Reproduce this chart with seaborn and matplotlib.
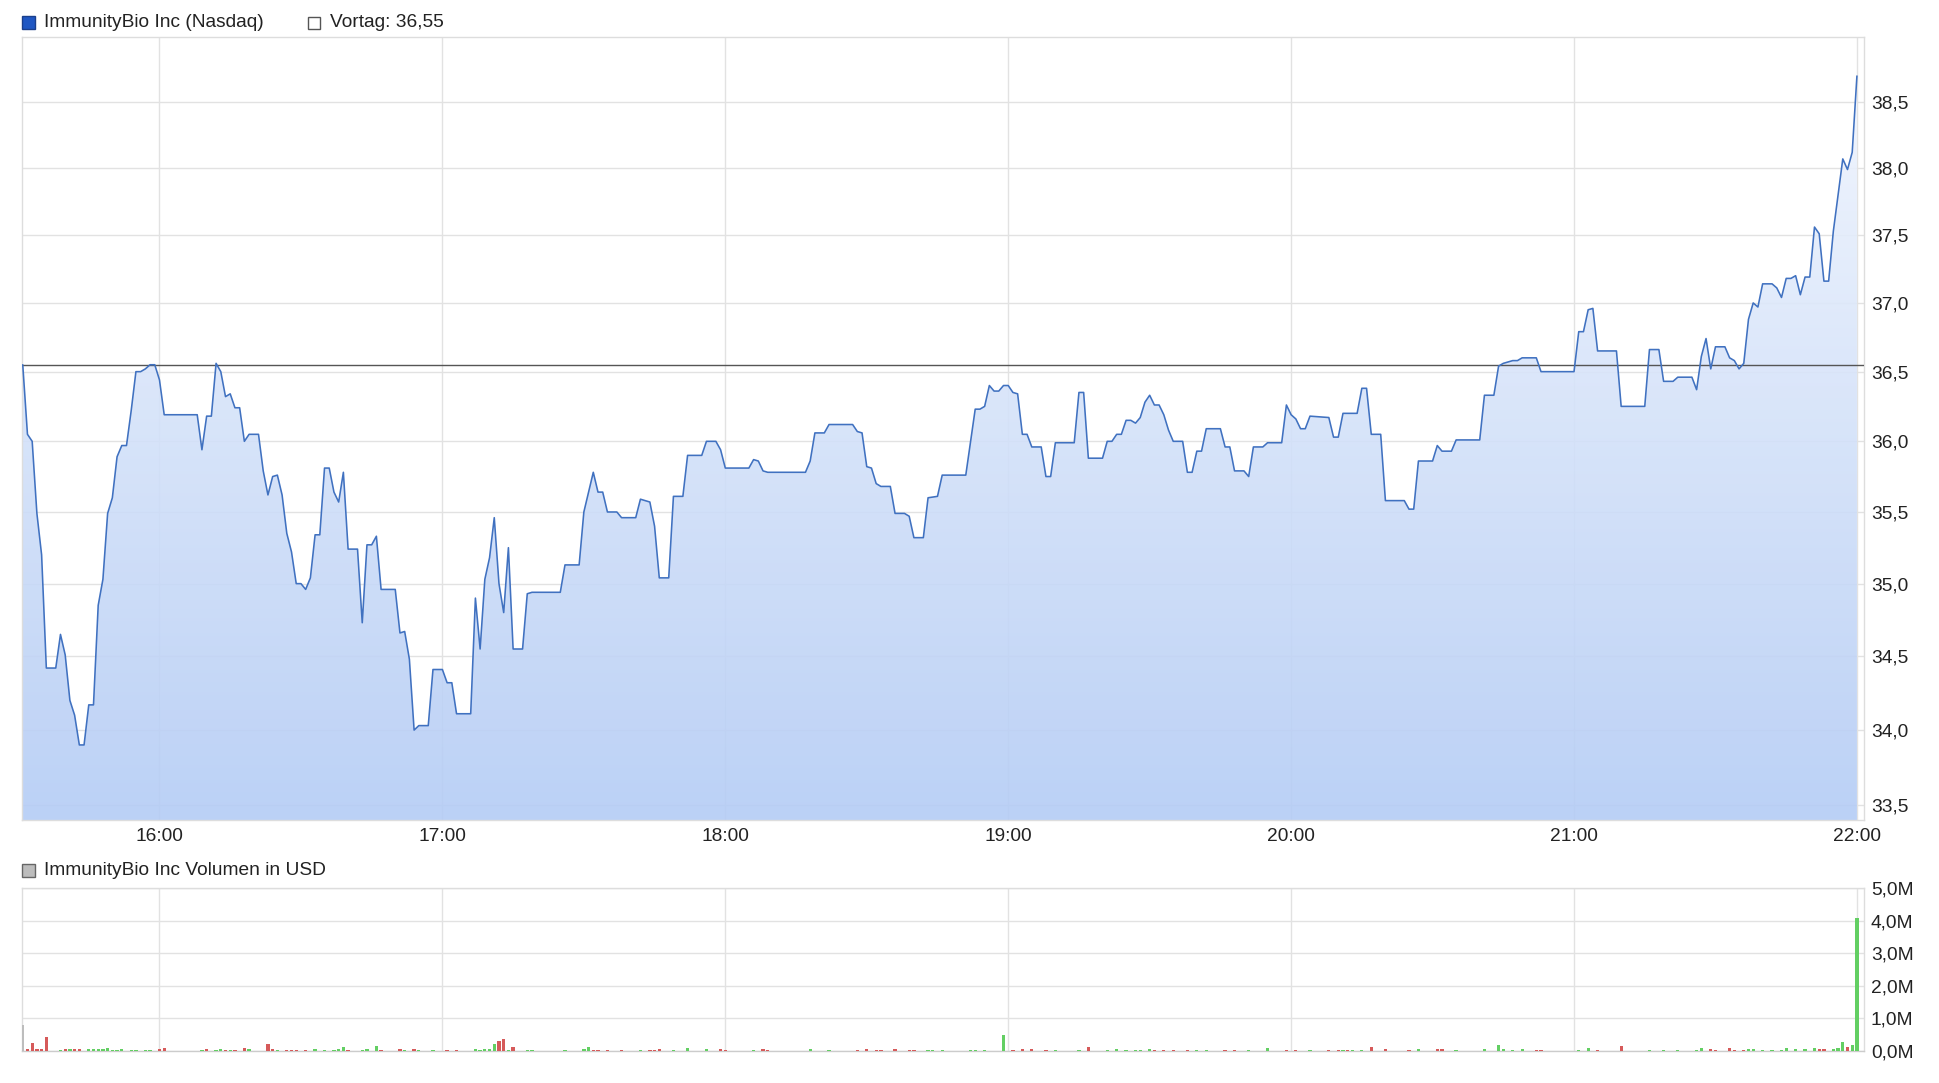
import numpy as np
import pandas as pd
import matplotlib
matplotlib.use('Agg')
import matplotlib.pyplot as plt
import seaborn as sns
from matplotlib.colors import LinearSegmentedColormap
from matplotlib.patches import Rectangle
from matplotlib.ticker import FixedLocator, FuncFormatter, NullLocator, NullFormatter

# --- Kursdaten (Minutenwerte) ---
price_times = [
    '15:31', '15:32', '15:33', '15:34', '15:35', '15:36', '15:38', '15:39', '15:40', '15:41',
    '15:42', '15:43', '15:44', '15:45', '15:46', '15:47', '15:48', '15:49', '15:50', '15:51',
    '15:52', '15:53', '15:54', '15:55', '15:56', '15:57', '15:58', '15:59', '16:00', '16:01',
    '16:08', '16:09', '16:10', '16:11', '16:12', '16:13', '16:14', '16:15', '16:16', '16:17',
    '16:18', '16:19', '16:21', '16:22', '16:23', '16:24', '16:25', '16:26', '16:27', '16:28',
    '16:29', '16:30', '16:31', '16:32', '16:33', '16:34', '16:35', '16:36', '16:37', '16:38',
    '16:39', '16:40', '16:42', '16:43', '16:44', '16:45', '16:46', '16:47', '16:50', '16:51',
    '16:52', '16:53', '16:54', '16:55', '16:57', '16:58', '17:00', '17:01', '17:02', '17:03',
    '17:06', '17:07', '17:08', '17:09', '17:10', '17:11', '17:12', '17:13', '17:14', '17:15',
    '17:17', '17:18', '17:19', '17:25', '17:26', '17:29', '17:30', '17:32', '17:33', '17:34',
    '17:35', '17:37', '17:38', '17:41', '17:42', '17:44', '17:45', '17:46', '17:48', '17:49',
    '17:51', '17:52', '17:55', '17:56', '17:58', '17:59', '18:00', '18:05', '18:06', '18:07',
    '18:08', '18:09', '18:17', '18:18', '18:19', '18:21', '18:22', '18:27', '18:28', '18:29',
    '18:30', '18:31', '18:32', '18:33', '18:35', '18:36', '18:38', '18:39', '18:40', '18:42',
    '18:43', '18:45', '18:46', '18:51', '18:53', '18:54', '18:55', '18:56', '18:57', '18:58',
    '18:59', '19:00', '19:01', '19:02', '19:03', '19:04', '19:05', '19:07', '19:08', '19:09',
    '19:10', '19:14', '19:15', '19:16', '19:17', '19:20', '19:21', '19:22', '19:23', '19:24',
    '19:25', '19:26', '19:27', '19:28', '19:29', '19:30', '19:31', '19:32', '19:33', '19:34',
    '19:35', '19:37', '19:38', '19:39', '19:40', '19:41', '19:42', '19:45', '19:46', '19:47',
    '19:48', '19:50', '19:51', '19:52', '19:54', '19:55', '19:58', '19:59', '20:00', '20:01',
    '20:02', '20:03', '20:04', '20:08', '20:09', '20:10', '20:11', '20:14', '20:15', '20:16',
    '20:17', '20:19', '20:20', '20:24', '20:25', '20:26', '20:27', '20:30', '20:31', '20:32',
    '20:34', '20:35', '20:40', '20:41', '20:43', '20:44', '20:45', '20:47', '20:48', '20:49',
    '20:52', '20:53', '21:00', '21:01', '21:02', '21:03', '21:04', '21:05', '21:09', '21:10',
    '21:15', '21:16', '21:18', '21:19', '21:21', '21:22', '21:25', '21:26', '21:27', '21:28',
    '21:29', '21:30', '21:32', '21:33', '21:34', '21:35', '21:36', '21:37', '21:38', '21:39',
    '21:40', '21:42', '21:43', '21:44', '21:45', '21:46', '21:47', '21:48', '21:49', '21:50',
    '21:51', '21:52', '21:53', '21:54', '21:55', '21:56', '21:57', '21:58', '21:59', '22:00',
]
price_values = [
    36.55, 36.05, 36.00, 35.49, 35.20, 34.42, 34.42, 34.65, 34.51, 34.20,
    34.10, 33.90, 33.90, 34.17, 34.17, 34.85, 35.03, 35.49, 35.60, 35.89,
    35.97, 35.97, 36.22, 36.50, 36.50, 36.52, 36.55, 36.55, 36.44, 36.19,
    36.19, 35.94, 36.18, 36.18, 36.56, 36.50, 36.32, 36.34, 36.24, 36.24,
    36.00, 36.05, 36.05, 35.79, 35.62, 35.75, 35.76, 35.62, 35.35, 35.22,
    35.00, 35.00, 34.96, 35.04, 35.34, 35.34, 35.81, 35.81, 35.64, 35.57,
    35.78, 35.24, 35.24, 34.73, 35.27, 35.27, 35.33, 34.96, 34.96, 34.66,
    34.67, 34.48, 34.00, 34.03, 34.03, 34.41, 34.41, 34.32, 34.32, 34.11,
    34.11, 34.90, 34.55, 35.03, 35.18, 35.46, 35.00, 34.80, 35.25, 34.55,
    34.55, 34.93, 34.94, 34.94, 35.13, 35.13, 35.50, 35.78, 35.64, 35.64,
    35.50, 35.50, 35.46, 35.46, 35.59, 35.57, 35.40, 35.04, 35.04, 35.61,
    35.61, 35.90, 35.90, 36.00, 36.00, 35.94, 35.81, 35.81, 35.87, 35.86,
    35.79, 35.78, 35.78, 35.86, 36.06, 36.06, 36.12, 36.12, 36.07, 36.06,
    35.82, 35.81, 35.70, 35.68, 35.68, 35.49, 35.49, 35.47, 35.32, 35.32,
    35.60, 35.61, 35.76, 35.76, 36.23, 36.23, 36.25, 36.40, 36.36, 36.36,
    36.40, 36.40, 36.35, 36.34, 36.05, 36.05, 35.96, 35.96, 35.75, 35.75,
    35.99, 35.99, 36.35, 36.35, 35.88, 35.88, 36.00, 36.00, 36.05, 36.05,
    36.15, 36.15, 36.13, 36.17, 36.28, 36.33, 36.26, 36.26, 36.19, 36.08,
    36.00, 36.00, 35.78, 35.78, 35.93, 35.93, 36.09, 36.09, 35.96, 35.96,
    35.79, 35.79, 35.75, 35.96, 35.96, 35.99, 35.99, 36.26, 36.19, 36.16,
    36.09, 36.09, 36.18, 36.17, 36.03, 36.03, 36.20, 36.20, 36.38, 36.38,
    36.05, 36.05, 35.58, 35.58, 35.52, 35.52, 35.86, 35.86, 35.97, 35.93,
    35.93, 36.01, 36.01, 36.33, 36.33, 36.54, 36.56, 36.58, 36.58, 36.60,
    36.60, 36.50, 36.50, 36.79, 36.79, 36.95, 36.96, 36.65, 36.65, 36.25,
    36.25, 36.66, 36.66, 36.43, 36.43, 36.46, 36.46, 36.37, 36.61, 36.74,
    36.52, 36.68, 36.68, 36.60, 36.58, 36.52, 36.56, 36.88, 37.00, 36.97,
    37.14, 37.14, 37.11, 37.04, 37.18, 37.18, 37.20, 37.06, 37.19, 37.19,
    37.56, 37.51, 37.16, 37.16, 37.53, 37.80, 38.07, 37.99, 38.12, 38.70,
]
prev_close = 36.55

# --- Volumen in Mio. USD; u = steigend, d = fallend, n = neutral ---
volume_times = [
    '15:31', '15:32', '15:33', '15:34', '15:35', '15:36', '15:39', '15:40', '15:41', '15:42',
    '15:43', '15:45', '15:46', '15:47', '15:48', '15:49', '15:50', '15:51', '15:52', '15:54',
    '15:55', '15:57', '15:58', '16:00', '16:01', '16:09', '16:10', '16:12', '16:13', '16:14',
    '16:15', '16:16', '16:18', '16:19', '16:23', '16:24', '16:25', '16:27', '16:28', '16:29',
    '16:31', '16:33', '16:35', '16:37', '16:38', '16:39', '16:40', '16:43', '16:44', '16:46',
    '16:47', '16:51', '16:52', '16:54', '16:55', '16:58', '17:01', '17:03', '17:07', '17:08',
    '17:09', '17:10', '17:11', '17:12', '17:13', '17:14', '17:15', '17:18', '17:19', '17:26',
    '17:30', '17:31', '17:32', '17:33', '17:35', '17:38', '17:42', '17:44', '17:45', '17:46',
    '17:49', '17:52', '17:56', '17:59', '18:00', '18:06', '18:08', '18:09', '18:18', '18:22',
    '18:28', '18:30', '18:32', '18:33', '18:36', '18:39', '18:40', '18:43', '18:44', '18:46',
    '18:52', '18:53', '18:55', '18:59', '19:01', '19:03', '19:05', '19:08', '19:10', '19:15',
    '19:17', '19:21', '19:23', '19:25', '19:27', '19:28', '19:30', '19:31', '19:33', '19:35',
    '19:38', '19:40', '19:42', '19:46', '19:48', '19:51', '19:55', '19:59', '20:01', '20:04',
    '20:08', '20:10', '20:11', '20:12', '20:13', '20:15', '20:17', '20:20', '20:25', '20:27',
    '20:31', '20:32', '20:35', '20:41', '20:44', '20:45', '20:47', '20:49', '20:52', '20:53',
    '21:01', '21:03', '21:05', '21:10', '21:16', '21:19', '21:22', '21:26', '21:27', '21:29',
    '21:30', '21:33', '21:34', '21:36', '21:37', '21:38', '21:40', '21:42', '21:44', '21:45',
    '21:47', '21:49', '21:51', '21:52', '21:53', '21:55', '21:56', '21:57', '21:58', '21:59',
    '22:00',
]
volume_musd = [
    0.80, 0.05, 0.24, 0.05, 0.05, 0.42, 0.03, 0.05, 0.05, 0.05,
    0.05, 0.05, 0.05, 0.05, 0.05, 0.08, 0.03, 0.03, 0.05, 0.03,
    0.03, 0.03, 0.03, 0.06, 0.08, 0.03, 0.05, 0.03, 0.05, 0.03,
    0.03, 0.03, 0.08, 0.05, 0.20, 0.05, 0.03, 0.03, 0.03, 0.03,
    0.03, 0.05, 0.03, 0.03, 0.05, 0.11, 0.03, 0.03, 0.05, 0.16,
    0.03, 0.07, 0.03, 0.05, 0.03, 0.03, 0.03, 0.03, 0.07, 0.03,
    0.05, 0.07, 0.20, 0.30, 0.36, 0.03, 0.11, 0.03, 0.03, 0.03,
    0.05, 0.13, 0.03, 0.03, 0.03, 0.03, 0.03, 0.03, 0.03, 0.05,
    0.03, 0.08, 0.05, 0.05, 0.03, 0.03, 0.06, 0.03, 0.05, 0.03,
    0.03, 0.07, 0.03, 0.03, 0.06, 0.03, 0.03, 0.03, 0.03, 0.03,
    0.03, 0.03, 0.03, 0.49, 0.03, 0.06, 0.06, 0.03, 0.03, 0.03,
    0.13, 0.03, 0.06, 0.03, 0.03, 0.03, 0.06, 0.03, 0.03, 0.03,
    0.03, 0.03, 0.03, 0.03, 0.03, 0.03, 0.09, 0.03, 0.03, 0.03,
    0.03, 0.03, 0.03, 0.03, 0.03, 0.03, 0.11, 0.05, 0.03, 0.05,
    0.05, 0.05, 0.03, 0.05, 0.18, 0.05, 0.03, 0.06, 0.03, 0.03,
    0.03, 0.08, 0.03, 0.15, 0.03, 0.03, 0.03, 0.03, 0.08, 0.05,
    0.03, 0.08, 0.03, 0.03, 0.06, 0.06, 0.03, 0.03, 0.03, 0.10,
    0.05, 0.05, 0.10, 0.05, 0.05, 0.05, 0.08, 0.27, 0.13, 0.18,
    4.08,
]
volume_dir = list(
    'ndddddudud' 'duuuuuuuuu' 'uuudduduud' 'uddudduddd' 'duuuuuduuu'
    'dduduudduu' 'uuudduduuu' 'uudddduddd' 'uuuddudduu' 'ddddddduuu'
    'uuuudddduu' 'duuuuuuddd' 'duudduuddu' 'dduduudddu' 'dduuuuuudd'
    'uudduuuuud' 'dddduuuuuu' 'uuudduuudu' 'u'
)

hour_ticks = ['16:00', '17:00', '18:00', '19:00', '20:00', '21:00', '22:00']
price_ticks = [33.5, 34.0, 34.5, 35.0, 35.5, 36.0, 36.5, 37.0, 37.5, 38.0, 38.5]
volume_ticks = [0, 1, 2, 3, 4, 5]

LINE = '#4071c0'
FILL_TOP = '#f3f7fe'
FILL_BOTTOM = '#b4ccf5'
GRID = '#e2e2e2'
UP, DOWN, NEUTRAL = '#63cf63', '#d65a5a', '#bdbdbd'
FS = 13.8


def to_hours(s):
    h, m = s.split(':')
    return int(h) + int(m) / 60.0


def de_num(v, suffix='', nd=1):
    return f'{v:.{nd}f}'.replace('.', ',') + suffix


sns.set_theme(style='white')
plt.rcParams['font.family'] = ['Liberation Sans', 'DejaVu Sans']

W, H = 1939, 1083
fig = plt.figure(figsize=(W / 100, H / 100), dpi=100)
fx = lambda px: px / W
fy = lambda py: 1 - py / H

ax = fig.add_axes([fx(22), fy(820), fx(1864 - 22), (820 - 37) / H])
axv = fig.add_axes([fx(22), fy(1051), fx(1864 - 22), (1051 - 888) / H])

x0, x1 = 15.514, 22.025
hour_pos = [to_hours(t) for t in hour_ticks]

# --- Kurschart ---
df = pd.DataFrame({'t': [to_hours(t) for t in price_times], 'price': price_values})
sns.lineplot(data=df, x='t', y='price', ax=ax, color=LINE, linewidth=1.15, zorder=4)
ax.set_yscale('log')

# Verlaufsfüllung unter der Kurve
poly = ax.fill_between(df['t'], df['price'], 30, color='none', linewidth=0)
clip = poly.get_paths()[0]
poly.remove()
cmap = LinearSegmentedColormap.from_list('fill', [FILL_BOTTOM, FILL_TOP])
grad = np.linspace(0, 1, 256).reshape(-1, 1)
im = ax.imshow(grad, cmap=cmap, extent=[0, 1, 0, 1], transform=ax.transAxes,
               origin='lower', aspect='auto', zorder=2, alpha=0.9)
im.set_clip_path(clip, transform=ax.transData)

ax.axhline(prev_close, color='#555555', linewidth=1.0, zorder=3)

ax.set_xlim(x0, x1)
ax.set_ylim(33.40, 39.0)
ax.yaxis.set_major_locator(FixedLocator(price_ticks))
ax.yaxis.set_major_formatter(FuncFormatter(lambda v, _: de_num(v)))
ax.yaxis.set_minor_locator(NullLocator())
ax.yaxis.set_minor_formatter(NullFormatter())
ax.xaxis.set_major_locator(FixedLocator(hour_pos))
ax.xaxis.set_major_formatter(FuncFormatter(lambda v, _: f'{int(round(v)):02d}:00'))
ax.yaxis.tick_right()
ax.tick_params(axis='y', length=0, pad=5, labelsize=FS, labelcolor='#222222')
ax.tick_params(axis='x', length=0, pad=6, labelsize=FS, labelcolor='#222222')
ax.grid(True, color=GRID, linewidth=1.0)
ax.set_axisbelow(True)
ax.set_xlabel('')
ax.set_ylabel('')
for s in ax.spines.values():
    s.set_color('#dddddd')
    s.set_linewidth(1.0)

# --- Volumen ---
bar_colors = [{'u': UP, 'd': DOWN, 'n': NEUTRAL}[d] for d in volume_dir]
axv.bar([to_hours(t) for t in volume_times], volume_musd, width=0.7 / 60,
        color=bar_colors, linewidth=0, zorder=3)
axv.set_xlim(x0, x1)
axv.set_ylim(0, 5)
axv.yaxis.set_major_locator(FixedLocator(volume_ticks))
axv.yaxis.set_major_formatter(FuncFormatter(lambda v, _: de_num(v, 'M')))
axv.xaxis.set_major_locator(FixedLocator(hour_pos))
axv.yaxis.tick_right()
axv.tick_params(axis='y', length=0, pad=5, labelsize=FS, labelcolor='#222222')
axv.tick_params(axis='x', length=0, labelbottom=False)
axv.grid(True, color=GRID, linewidth=1.0)
axv.set_axisbelow(True)
for s in axv.spines.values():
    s.set_color('#dddddd')
    s.set_linewidth(1.0)
axv.spines['bottom'].set_color('#cccccc')

# --- Legenden ---
fig.patches.append(Rectangle((fx(22), fy(29)), fx(13), 13 / H, transform=fig.transFigure,
                             facecolor='#1f57c3', edgecolor='#1a3f8c', linewidth=1))
fig.text(fx(44), fy(22.5), 'ImmunityBio Inc (Nasdaq)', ha='left', va='center',
         fontsize=FS, color='#222222')
fig.patches.append(Rectangle((fx(308), fy(29)), fx(12), 12 / H, transform=fig.transFigure,
                             facecolor='white', edgecolor='#555555', linewidth=1))
fig.text(fx(330), fy(22.5), 'Vortag: ' + de_num(prev_close, nd=2),
         ha='left', va='center', fontsize=FS, color='#222222')
fig.patches.append(Rectangle((fx(22), fy(877)), fx(13), 13 / H, transform=fig.transFigure,
                             facecolor='#bdbdbd', edgecolor='#666666', linewidth=1))
fig.text(fx(44), fy(870.5), 'ImmunityBio Inc Volumen in USD', ha='left', va='center',
         fontsize=FS, color='#222222')

fig.savefig('out.png', dpi=100)
